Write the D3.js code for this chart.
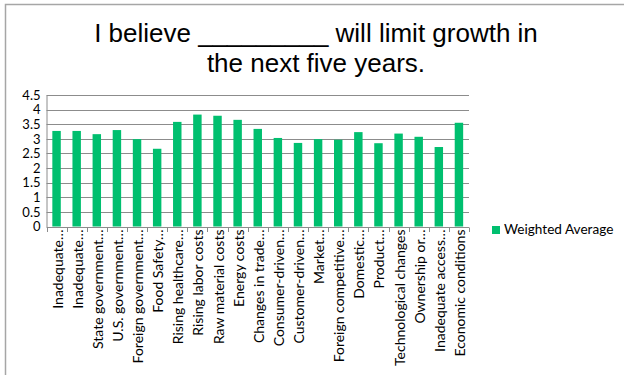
<!DOCTYPE html>
<html>
<head>
<meta charset="utf-8">
<script src="https://cdn.jsdelivr.net/npm/d3@7"></script>
<style>
  html, body { margin: 0; padding: 0; background: #fff; }
  svg { display: block; }
</style>
</head>
<body>
<svg id="chart" width="624" height="375"></svg>
<script>
// Survey factors and their weighted average score
const categories = [
  "Inadequate…", "Inadequate…", "State government…", "U.S. government…",
  "Foreign government…", "Food Safety…", "Rising healthcare…", "Rising labor costs",
  "Raw material costs", "Energy costs", "Changes in trade…", "Consumer-driven…",
  "Customer-driven…", "Market…", "Foreign competitive…", "Domestic…",
  "Product…", "Technological changes", "Ownership or…", "Inadequate access…",
  "Economic conditions"
];
const weightedAverage = [
  3.27, 3.27, 3.16, 3.30, 2.99, 2.66, 3.58, 3.83, 3.79, 3.65,
  3.34, 3.03, 2.86, 2.99, 2.97, 3.23, 2.85, 3.18, 3.07, 2.72, 3.55
];
const yTicks = [0, 0.5, 1, 1.5, 2, 2.5, 3, 3.5, 4, 4.5];
const titleLines = ["I believe _________ will limit growth in", "the next five years."];
const seriesName = "Weighted Average";

const svg = d3.select("#chart");
const barColor = "#00bf6f";
const labelFont = "Lato, 'Open Sans', sans-serif";

// outer chart frame
svg.append("path")
  .attr("d", "M5.5,375 V4.5 H624")
  .attr("fill", "none")
  .attr("stroke", "#a6a6a6")
  .attr("stroke-width", 1.5);

// title
svg.append("g").selectAll("text")
  .data(titleLines)
  .join("text")
  .attr("x", 316)
  .attr("y", (d, i) => 42 + i * 30)
  .attr("text-anchor", "middle")
  .attr("font-family", "'Liberation Sans', Arial, sans-serif")
  .attr("font-size", 26)
  .attr("fill", "#000")
  .text(d => d);

const plot = { left: 46.5, right: 469, top: 95, bottom: 226.5 };

const x = d3.scaleBand()
  .domain(d3.range(categories.length))
  .range([plot.left, plot.right])
  .paddingInner(0.58)
  .paddingOuter(0.29);

const y = d3.scaleLinear()
  .domain([0, 4.5])
  .range([plot.bottom, plot.top]);

// horizontal gridlines
svg.append("g")
  .selectAll("line")
  .data(yTicks.slice(1))
  .join("line")
  .attr("x1", plot.left)
  .attr("x2", plot.right)
  .attr("y1", d => Math.round(y(d)) + 0.5)
  .attr("y2", d => Math.round(y(d)) + 0.5)
  .attr("stroke", "#8c8c8c")
  .attr("stroke-width", 1);

// y axis
const yAxis = svg.append("g")
  .attr("transform", `translate(${plot.left},0)`)
  .call(d3.axisLeft(y).tickValues(yTicks).tickSize(0).tickPadding(6).tickFormat(d3.format("")));
yAxis.select(".domain").attr("stroke", "#8c8c8c");
yAxis.selectAll("text")
  .attr("font-family", labelFont)
  .attr("font-size", 13)
  .attr("fill", "#000");

// bars
svg.append("g")
  .selectAll("rect")
  .data(weightedAverage)
  .join("rect")
  .attr("x", (d, i) => x(i))
  .attr("width", x.bandwidth())
  .attr("y", d => y(d))
  .attr("height", d => y(0) - y(d))
  .attr("fill", barColor);

// x axis with boundary ticks between categories
const xg = svg.append("g");
xg.append("line")
  .attr("x1", plot.left).attr("x2", plot.right)
  .attr("y1", Math.round(y(0)) + 0.5).attr("y2", Math.round(y(0)) + 0.5)
  .attr("stroke", "#8c8c8c");
xg.selectAll("line.tick")
  .data(d3.range(categories.length + 1))
  .join("line")
  .attr("class", "tick")
  .attr("x1", i => Math.round(plot.left + i * x.step()) + 0.5)
  .attr("x2", i => Math.round(plot.left + i * x.step()) + 0.5)
  .attr("y1", Math.round(y(0)) + 0.5)
  .attr("y2", Math.round(y(0)) + 5)
  .attr("stroke", "#8c8c8c");

// rotated category labels
xg.selectAll("text")
  .data(categories)
  .join("text")
  .attr("transform", (d, i) => `translate(${x(i) + x.bandwidth() / 2 + 6},${y(0) + 3}) rotate(-90)`)
  .attr("text-anchor", "end")
  .attr("font-family", labelFont)
  .attr("font-size", 14)
  .attr("fill", "#000")
  .text(d => d);

// legend
const legend = svg.append("g").attr("transform", "translate(492,226)");
legend.append("rect")
  .attr("width", 8).attr("height", 8)
  .attr("fill", barColor);
legend.append("text")
  .attr("x", 12).attr("y", 8)
  .attr("font-family", labelFont)
  .attr("font-size", 13.6)
  .attr("fill", "#000")
  .text(seriesName);
</script>
</body>
</html>
